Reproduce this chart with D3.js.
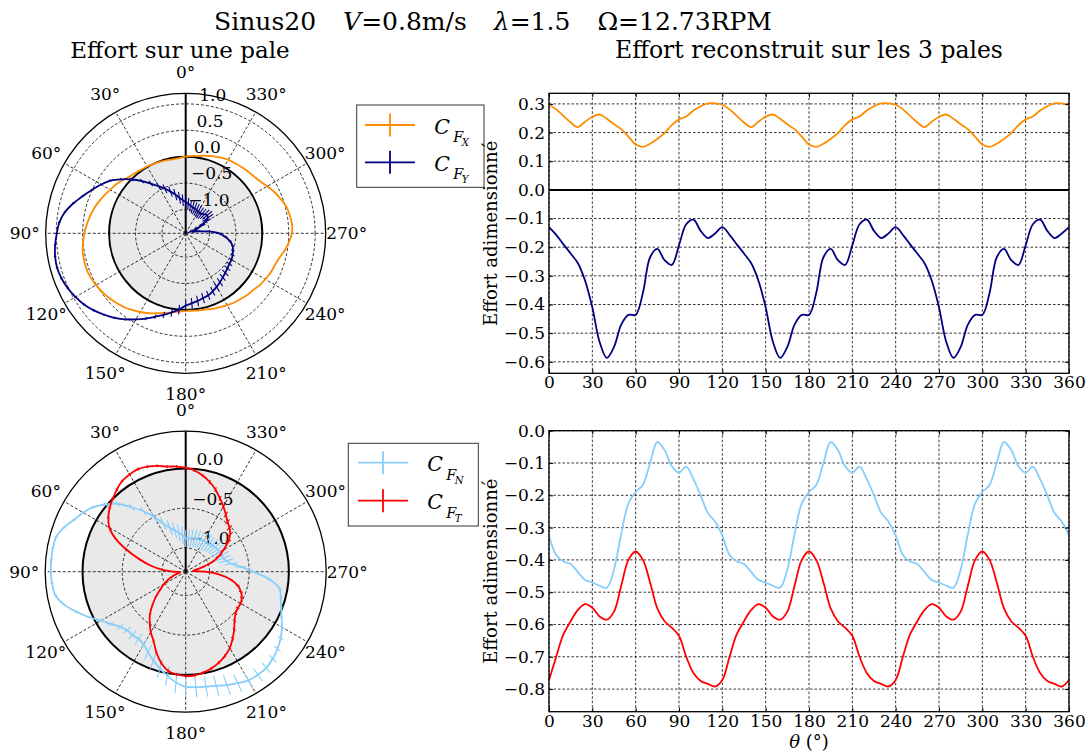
<!DOCTYPE html>
<html><head><meta charset="utf-8">
<script src="https://cdn.jsdelivr.net/npm/d3@7"></script>
<style>body{margin:0;background:#fff} svg text{font-family:'DejaVu Serif',serif;fill:#000}</style>
</head><body><svg id="c" width="1088" height="755"></svg>
<script>
// ---------- data ----------
const thetaTot = d3.range(0, 361, 5);
const cfxTot = [0.297,0.281,0.258,0.235,0.219,0.238,0.255,0.263,0.248,0.229,0.212,0.186,0.158,0.150,0.161,0.178,0.198,0.226,0.246,0.256,0.277,0.292,0.302,0.302,
 0.297,0.281,0.258,0.235,0.219,0.238,0.255,0.263,0.248,0.229,0.212,0.186,0.158,0.150,0.161,0.178,0.198,0.226,0.246,0.256,0.277,0.292,0.302,0.302,
 0.297,0.281,0.258,0.235,0.219,0.238,0.255,0.263,0.248,0.229,0.212,0.186,0.158,0.150,0.161,0.178,0.198,0.226,0.246,0.256,0.277,0.292,0.302,0.302,0.297];
const cfyTot = [-0.130,-0.157,-0.190,-0.222,-0.256,-0.317,-0.410,-0.530,-0.586,-0.548,-0.470,-0.436,-0.436,-0.360,-0.235,-0.206,-0.245,-0.262,-0.193,-0.120,-0.104,-0.143,-0.168,-0.152,
 -0.130,-0.157,-0.190,-0.222,-0.256,-0.317,-0.410,-0.530,-0.586,-0.548,-0.470,-0.436,-0.436,-0.360,-0.235,-0.206,-0.245,-0.262,-0.193,-0.120,-0.104,-0.143,-0.168,-0.152,
 -0.130,-0.157,-0.190,-0.222,-0.256,-0.317,-0.410,-0.530,-0.586,-0.548,-0.470,-0.436,-0.436,-0.360,-0.235,-0.206,-0.245,-0.262,-0.193,-0.120,-0.104,-0.143,-0.168,-0.152,-0.130];
const cfnTot = [-0.325,-0.385,-0.405,-0.413,-0.438,-0.462,-0.470,-0.480,-0.486,-0.430,-0.320,-0.225,-0.190,-0.168,-0.100,-0.035,-0.060,-0.110,-0.130,-0.111,-0.150,-0.200,-0.255,-0.281,
 -0.325,-0.385,-0.405,-0.413,-0.438,-0.462,-0.470,-0.480,-0.486,-0.430,-0.320,-0.225,-0.190,-0.168,-0.100,-0.035,-0.060,-0.110,-0.130,-0.111,-0.150,-0.200,-0.255,-0.281,
 -0.325,-0.385,-0.405,-0.413,-0.438,-0.462,-0.470,-0.480,-0.486,-0.430,-0.320,-0.225,-0.190,-0.168,-0.100,-0.035,-0.060,-0.110,-0.130,-0.111,-0.150,-0.200,-0.255,-0.281,-0.325];
const cftTot = [-0.772,-0.700,-0.630,-0.590,-0.555,-0.537,-0.548,-0.575,-0.585,-0.560,-0.480,-0.400,-0.374,-0.400,-0.470,-0.550,-0.590,-0.610,-0.635,-0.700,-0.750,-0.775,-0.784,-0.792,
 -0.772,-0.700,-0.630,-0.590,-0.555,-0.537,-0.548,-0.575,-0.585,-0.560,-0.480,-0.400,-0.374,-0.400,-0.470,-0.550,-0.590,-0.610,-0.635,-0.700,-0.750,-0.775,-0.784,-0.792,
 -0.772,-0.700,-0.630,-0.590,-0.555,-0.537,-0.548,-0.575,-0.585,-0.560,-0.480,-0.400,-0.374,-0.400,-0.470,-0.550,-0.590,-0.610,-0.635,-0.700,-0.750,-0.775,-0.784,-0.792,-0.772];

const thetaBlade = d3.range(0, 360, 5);
const cfx = [0.00,-0.02,-0.03,-0.02,-0.01,0.00,0.01,0.02,0.04,0.06,0.11,0.16,0.20,0.25,0.30,0.35,0.39,0.43,0.47,0.50,0.53,0.54,0.545,0.535,
 0.51,0.48,0.45,0.41,0.37,0.32,0.27,0.22,0.16,0.11,0.07,0.04,0.02,0.02,0.03,0.04,0.07,0.09,0.12,0.15,0.17,0.20,0.22,0.26,
 0.29,0.32,0.34,0.38,0.45,0.51,0.56,0.57,0.55,0.52,0.46,0.40,0.33,0.27,0.23,0.21,0.19,0.17,0.16,0.13,0.10,0.07,0.04,0.02];
const cfxErr = [0.008,0.008,0.008,0.008,0.008,0.008,0.008,0.008,0.008,0.008,0.008,0.008,0.008,0.008,0.008,0.008,0.008,0.008,0.008,0.008,0.008,0.008,0.008,0.008,
 0.008,0.008,0.008,0.008,0.008,0.008,0.008,0.008,0.008,0.008,0.008,0.008,0.008,0.008,0.008,0.008,0.008,0.008,0.008,0.008,0.008,0.008,0.008,0.008,
 0.008,0.008,0.008,0.008,0.008,0.008,0.008,0.008,0.008,0.008,0.008,0.008,0.008,0.008,0.008,0.008,0.008,0.008,0.008,0.008,0.008,0.008,0.008,0.008];
const cfy = [-0.86,-0.82,-0.77,-0.69,-0.61,-0.52,-0.42,-0.30,-0.16,-0.01,0.14,0.29,0.40,0.50,0.62,0.75,0.87,0.95,0.99,1.03,1.06,1.07,1.05,1.01,
 0.96,0.90,0.82,0.73,0.64,0.54,0.43,0.33,0.23,0.15,0.07,0.00,-0.08,-0.12,-0.15,-0.18,-0.20,-0.24,-0.28,-0.32,-0.36,-0.39,-0.42,-0.44,
 -0.45,-0.47,-0.50,-0.53,-0.60,-0.70,-0.82,-1.05,-1.25,-1.32,-1.28,-1.15,-1.02,-0.94,-0.92,-0.94,-0.97,-0.98,-0.97,-0.96,-0.95,-0.94,-0.92,-0.89];
const cfyErr = [0.11,0.11,0.11,0.11,0.10,0.09,0.08,0.06,0.05,0.04,0.03,0.025,0.025,0.025,0.025,0.025,0.025,0.025,0.025,0.025,0.025,0.025,0.025,0.025,
 0.025,0.025,0.025,0.025,0.025,0.025,0.025,0.03,0.04,0.06,0.08,0.09,0.10,0.10,0.10,0.10,0.09,0.09,0.09,0.09,0.08,0.08,0.07,0.06,
 0.05,0.04,0.035,0.03,0.03,0.04,0.05,0.06,0.08,0.09,0.10,0.11,0.12,0.12,0.12,0.12,0.12,0.12,0.12,0.12,0.12,0.12,0.11,0.11];
const cfn = [-0.88,-0.84,-0.80,-0.76,-0.71,-0.63,-0.50,-0.37,-0.24,-0.09,0.02,0.12,0.19,0.25,0.33,0.39,0.40,0.40,0.40,0.39,0.37,0.29,0.17,0.05,
 -0.07,-0.15,-0.22,-0.255,-0.26,-0.265,-0.24,-0.18,-0.11,-0.04,0.03,0.10,0.15,0.16,0.17,0.19,0.22,0.25,0.28,0.285,0.28,0.25,0.21,0.16,
 0.10,0.03,-0.02,-0.06,-0.10,-0.25,-0.45,-0.60,-0.72,-0.77,-0.80,-0.80,-0.80,-0.81,-0.82,-0.83,-0.85,-0.85,-0.85,-0.86,-0.86,-0.86,-0.87,-0.88];
const cfnErr = [0.11,0.11,0.11,0.10,0.10,0.09,0.08,0.06,0.05,0.04,0.03,0.02,0.02,0.02,0.02,0.02,0.02,0.02,0.02,0.02,0.02,0.02,0.02,0.02,
 0.03,0.04,0.05,0.06,0.07,0.08,0.09,0.10,0.11,0.12,0.12,0.13,0.13,0.13,0.13,0.13,0.13,0.12,0.11,0.10,0.08,0.06,0.05,0.04,
 0.03,0.02,0.02,0.02,0.02,0.03,0.04,0.06,0.08,0.09,0.10,0.10,0.11,0.11,0.11,0.11,0.11,0.11,0.11,0.11,0.11,0.11,0.11,0.11];
const cft = [0.01,0.03,0.045,0.08,0.11,0.125,0.115,0.095,0.05,0.00,-0.05,-0.11,-0.19,-0.33,-0.52,-0.70,-0.85,-1.00,-1.15,-1.22,-1.22,-1.17,-1.12,-1.05,
 -0.98,-0.91,-0.81,-0.71,-0.60,-0.51,-0.42,-0.34,-0.22,-0.11,-0.03,0.00,0.015,0.01,-0.01,-0.04,-0.08,-0.13,-0.19,-0.27,-0.35,-0.43,-0.48,-0.50,
 -0.50,-0.52,-0.56,-0.62,-0.72,-0.87,-1.05,-1.20,-1.18,-1.08,-0.95,-0.84,-0.75,-0.65,-0.57,-0.52,-0.48,-0.42,-0.35,-0.28,-0.20,-0.13,-0.07,-0.02];
const cftErr = [0.02,0.02,0.02,0.02,0.02,0.02,0.02,0.02,0.02,0.02,0.02,0.02,0.02,0.02,0.02,0.02,0.02,0.02,0.02,0.02,0.02,0.02,0.02,0.02,
 0.02,0.02,0.02,0.02,0.02,0.02,0.02,0.02,0.02,0.02,0.02,0.02,0.02,0.02,0.02,0.02,0.02,0.02,0.025,0.025,0.025,0.025,0.025,0.025,
 0.025,0.025,0.025,0.025,0.02,0.02,0.02,0.02,0.03,0.03,0.035,0.04,0.04,0.045,0.045,0.045,0.04,0.04,0.035,0.03,0.03,0.025,0.02,0.02];

const xTicks = d3.range(0, 361, 30);
const yTicksTop = [0.3,0.2,0.1,0.0,-0.1,-0.2,-0.3,-0.4,-0.5,-0.6];
const yTicksBot = [0.0,-0.1,-0.2,-0.3,-0.4,-0.5,-0.6,-0.7,-0.8];
const rTicksTop = [-1.0,-0.5,0.0,0.5,1.0];
const rTicksBot = [-1.0,-0.5,0.0];
const angTicks = d3.range(0, 360, 30);

const COL = {x:'#ff8c00', y:'#000080', n:'#87cefa', t:'#ff0000'};

// ---------- helpers ----------
const svg = d3.select('#c');
const fmt = v => d3.format('.1f')(v).replace('-', '\u2212');

function drawPolar(cx, cy, R, rDomain, rTicks, series) {
  const g = svg.append('g').attr('transform', `translate(${cx},${cy})`);
  const rs = d3.scaleLinear().domain(rDomain).range([0, R]).clamp(true);
  const rad = d => d * Math.PI / 180;
  const pt = (t, v) => [-rs(v) * Math.sin(rad(t)), -rs(v) * Math.cos(rad(t))];
  g.append('circle').attr('r', rs(0)).attr('fill', '#e9e9e9');
  rTicks.filter(t => t !== 0).forEach(t => g.append('circle').attr('r', rs(t))
    .attr('fill', 'none').attr('stroke', '#000').attr('stroke-width', 0.8).attr('stroke-dasharray', '3,2'));
  angTicks.filter(a => a !== 0).forEach(a => {
    const p = [-R * Math.sin(rad(a)), -R * Math.cos(rad(a))];
    g.append('line').attr('x1', 0).attr('y1', 0).attr('x2', p[0]).attr('y2', p[1])
      .attr('stroke', '#000').attr('stroke-width', 0.8).attr('stroke-dasharray', '3,2');
  });
  g.append('circle').attr('r', rs(0)).attr('fill', 'none').attr('stroke', '#000').attr('stroke-width', 2);
  g.append('line').attr('x1', 0).attr('y1', 0).attr('x2', 0).attr('y2', -R).attr('stroke', '#000').attr('stroke-width', 2);
  g.append('circle').attr('r', R).attr('fill', 'none').attr('stroke', '#000').attr('stroke-width', 1.3);
  angTicks.forEach(a => {
    const rr = R + 21;
    g.append('text').attr('x', -rr * Math.sin(rad(a))).attr('y', -rr * Math.cos(rad(a)))
      .attr('text-anchor', 'middle').attr('dominant-baseline', 'central').attr('font-size', 17).text(a + '\u00b0');
  });
  rTicks.forEach(t => {
    const r = rs(t);
    g.append('text').attr('x', r * Math.sin(rad(6))).attr('y', -r * Math.cos(rad(6)) - 4)
      .attr('font-size', 17).text(fmt(t));
  });
  series.forEach(s => {
    const data = thetaBlade.map((t, i) => ({t, v: s.v[i], e: s.e[i]}));
    const line = d3.lineRadial().angle(d => -rad(d.t)).radius(d => rs(d.v)).curve(d3.curveCatmullRomClosed.alpha(0.5));
    g.append('path').attr('d', line(data)).attr('fill', 'none').attr('stroke', s.c).attr('stroke-width', 1.8);
    data.forEach(d => {
      const a = pt(d.t, d.v - d.e), b = pt(d.t, d.v + d.e);
      g.append('line').attr('x1', a[0]).attr('y1', a[1]).attr('x2', b[0]).attr('y2', b[1])
        .attr('stroke', s.c).attr('stroke-width', 1.1);
    });
  });
}

function drawCart(top, bottom, yDomain, yTicks, series, zeroLine) {
  const x = d3.scaleLinear().domain([0, 360]).range([549, 1069]);
  const y = d3.scaleLinear().domain(yDomain).range([bottom, top]);
  const g = svg.append('g');
  g.append('g').selectAll('line').data(xTicks).join('line')
    .attr('x1', d => x(d)).attr('x2', d => x(d)).attr('y1', top).attr('y2', bottom)
    .attr('stroke', '#000').attr('stroke-width', 0.8).attr('stroke-dasharray', '2.5,2');
  g.append('g').selectAll('line').data(yTicks).join('line')
    .attr('x1', 549).attr('x2', 1069).attr('y1', d => y(d)).attr('y2', d => y(d))
    .attr('stroke', '#000').attr('stroke-width', 0.8).attr('stroke-dasharray', '2.5,2');
  if (zeroLine) g.append('line').attr('x1', 549).attr('x2', 1069).attr('y1', y(0)).attr('y2', y(0))
    .attr('stroke', '#000').attr('stroke-width', 2);
  series.forEach(s => {
    const line = d3.line().x((d, i) => x(thetaTot[i])).y(d => y(d)).curve(d3.curveCatmullRom.alpha(0.5));
    g.append('path').attr('d', line(s.v)).attr('fill', 'none').attr('stroke', s.c).attr('stroke-width', 1.8);
  });
  const styleAx = a => { a.select('.domain').remove(); a.selectAll('text').attr('font-family', 'DejaVu Serif').attr('font-size', 17).attr('fill', '#000'); a.selectAll('line').attr('stroke', '#000'); };
  g.append('g').attr('transform', `translate(549,0)`)
    .call(d3.axisLeft(y).tickValues(yTicks).tickFormat(fmt).tickSizeInner(-4).tickSizeOuter(0).tickPadding(4)).call(styleAx);
  g.append('g').attr('transform', `translate(1069,0)`)
    .call(d3.axisRight(y).tickValues(yTicks).tickFormat('').tickSizeInner(-4).tickSizeOuter(0)).call(styleAx);
  g.append('g').attr('transform', `translate(0,${bottom})`)
    .call(d3.axisBottom(x).tickValues(xTicks).tickFormat(d3.format('d')).tickSizeInner(-4).tickSizeOuter(0).tickPadding(3)).call(styleAx);
  g.append('g').attr('transform', `translate(0,${top})`)
    .call(d3.axisTop(x).tickValues(xTicks).tickFormat('').tickSizeInner(-4).tickSizeOuter(0)).call(styleAx);
  g.append('rect').attr('x', 549).attr('y', top).attr('width', 520).attr('height', bottom - top)
    .attr('fill', 'none').attr('stroke', '#000').attr('stroke-width', 1.3);
}
function yLabel(top, bottom) {
  svg.append('text').attr('transform', `translate(497,${(top + bottom) / 2}) rotate(-90)`)
    .attr('text-anchor', 'middle').attr('font-size', 18).text('Effort adimensionn\u00e9');
}

function drawLegend(bx, by, bw, bh, lx0, lx1, tx, rows) {
  svg.append('rect').attr('x', bx).attr('y', by).attr('width', bw).attr('height', bh)
    .attr('fill', '#fff').attr('stroke', '#333').attr('stroke-width', 1);
  rows.forEach(r => {
    svg.append('line').attr('x1', lx0).attr('x2', lx1).attr('y1', r.y).attr('y2', r.y).attr('stroke', r.c).attr('stroke-width', 1.8);
    const xm = (lx0 + lx1) / 2;
    svg.append('line').attr('x1', xm).attr('x2', xm).attr('y1', r.y - 11.5).attr('y2', r.y + 11.5).attr('stroke', r.c).attr('stroke-width', 1.8);
    svg.append('text').attr('x', tx).attr('y', r.y + 8.5).attr('font-size', 20.5).attr('font-style', 'italic').text('C');
    svg.append('text').attr('x', tx + 19).attr('y', r.y + 16.8).attr('font-size', 14.4).attr('font-style', 'italic').text('F');
    svg.append('text').attr('x', tx + 27.4).attr('y', r.y + 21).attr('font-size', 10.2).attr('font-style', 'italic').text(r.sub);
  });
}

// ---------- titles ----------
const titleParts = [['Sinus20', null], ['V', '=0.8m/s'], ['\u03bb', '=1.5'], [null, '\u03a9=12.73RPM']];
const tg = svg.append('g');
const pieces = titleParts.map(p => {
  const t = tg.append('text').attr('y', 30).attr('font-size', 25);
  if (p[0] === 'Sinus20') t.text('Sinus20');
  else {
    if (p[0]) t.append('tspan').attr('font-style', 'italic').text(p[0]);
    t.append('tspan').text(p[1]);
  }
  return t;
});
const gap = 27;
const widths = pieces.map(t => t.node().getComputedTextLength());
let xx = 493 - (d3.sum(widths) + gap * (pieces.length - 1)) / 2;
pieces.forEach((t, i) => { t.attr('x', xx); xx += widths[i] + gap; });

svg.append('text').attr('x', 180).attr('y', 58).attr('text-anchor', 'middle').attr('font-size', 23).text('Effort sur une pale');
svg.append('text').attr('x', 809).attr('y', 58).attr('text-anchor', 'middle').attr('font-size', 23.5).text('Effort reconstruit sur les 3 pales');

// ---------- charts ----------
drawPolar(185.7, 233.3, 140, [-1.45, 1.2], rTicksTop, [
  {v: cfx, e: cfxErr, c: COL.x}, {v: cfy, e: cfyErr, c: COL.y}]);
drawPolar(185.7, 571.7, 140.5, [-1.3, 0.47], rTicksBot, [
  {v: cfn, e: cfnErr, c: COL.n}, {v: cft, e: cftErr, c: COL.t}]);

drawCart(93.3, 373.3, [-0.64, 0.337], yTicksTop, [{v: cfxTot, c: COL.x}, {v: cfyTot, c: COL.y}], true);
drawCart(430.7, 711.7, [-0.87, 0], yTicksBot, [{v: cfnTot, c: COL.n}, {v: cftTot, c: COL.t}], false);

const xl = svg.append('text').attr('x', 809).attr('y', 748).attr('text-anchor', 'middle').attr('font-size', 18);
xl.append('tspan').attr('font-style', 'italic').text('\u03b8');
xl.append('tspan').text(' (\u00b0)');

drawLegend(356.7, 105, 127.3, 82.3, 365, 415, 434.3, [{y: 125, c: COL.x, sub: 'X'}, {y: 162.3, c: COL.y, sub: 'Y'}]);
drawLegend(348.3, 443.3, 130, 82.7, 358, 408, 427.3, [{y: 462.7, c: COL.n, sub: 'N'}, {y: 500.7, c: COL.t, sub: 'T'}]);
yLabel(93.3, 373.3);
yLabel(430.7, 711.7);
</script></body></html>
